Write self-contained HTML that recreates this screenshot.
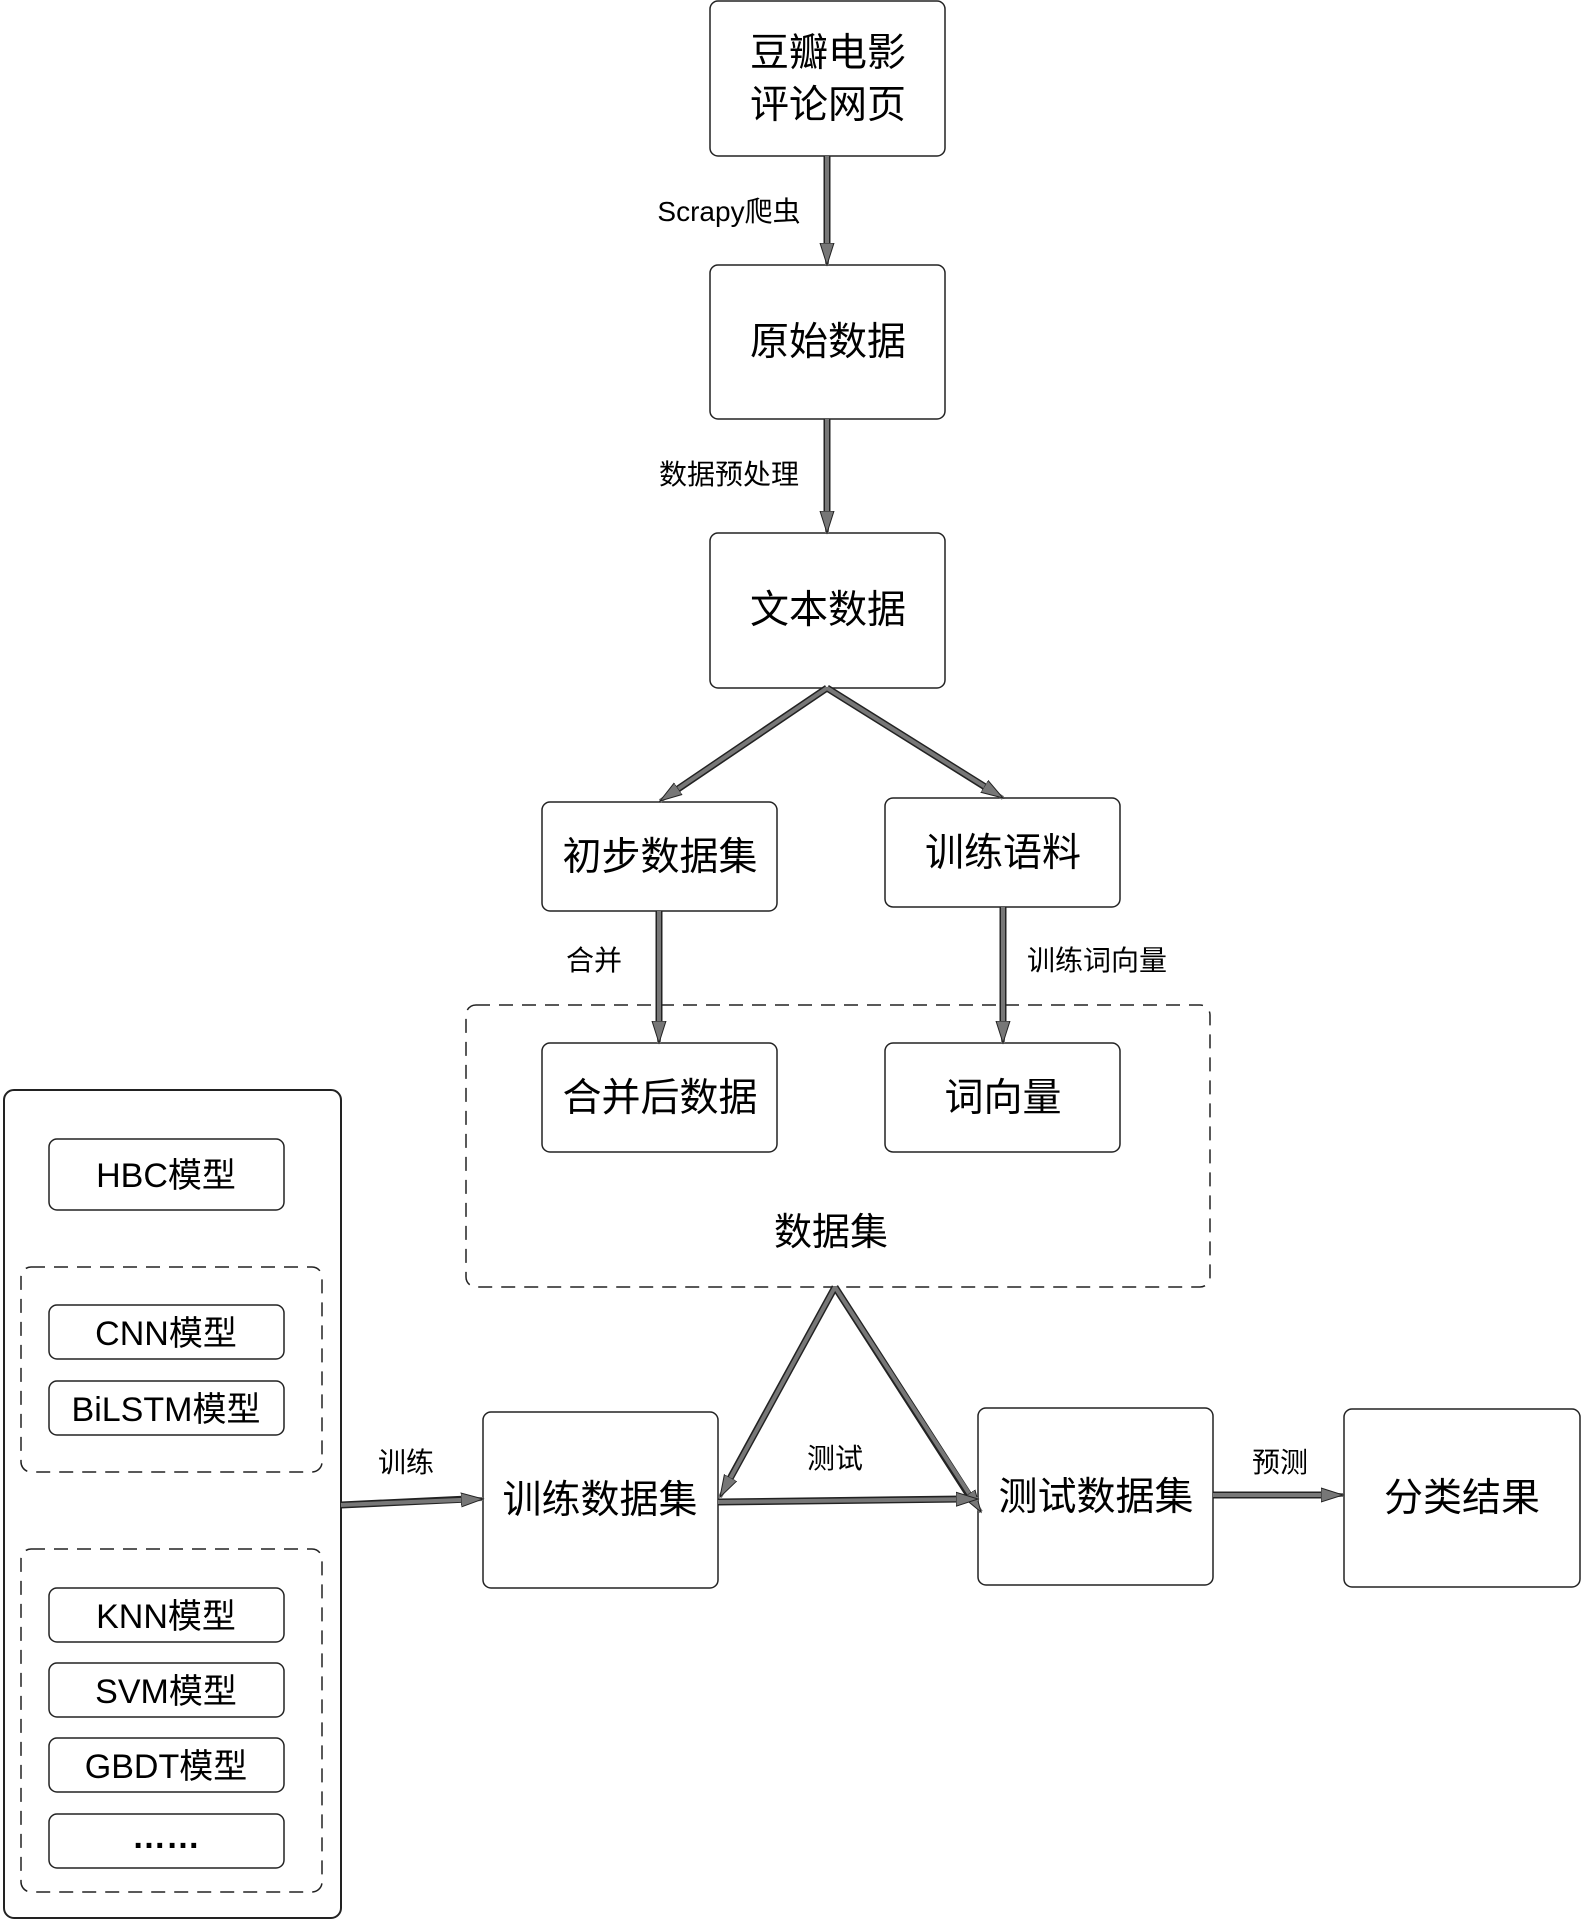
<!DOCTYPE html>
<html><head><meta charset="utf-8"><style>
html,body{margin:0;padding:0;background:#fff;}
svg text{font-family:"Liberation Sans","Noto Sans CJK SC",sans-serif;fill:#000;}
</style></head><body>
<svg width="1581" height="1923" viewBox="0 0 1581 1923" xmlns="http://www.w3.org/2000/svg">
<defs>
<marker id="ah" markerUnits="userSpaceOnUse" markerWidth="24" markerHeight="16" refX="22" refY="8" orient="auto">
<path d="M0,1 L22,8 L0,15 Z" fill="#777" stroke="#222" stroke-width="1"/>
</marker>
</defs>
<g fill="#fff" stroke="#222" stroke-width="1.5">
<rect x="710" y="1" width="235" height="155" rx="8"/>
<rect x="710" y="265" width="235" height="154" rx="8"/>
<rect x="710" y="533" width="235" height="155" rx="8"/>
<rect x="542" y="802" width="235" height="109" rx="8"/>
<rect x="885" y="798" width="235" height="109" rx="8"/>
<rect x="466" y="1005" width="744" height="282" rx="10" stroke-dasharray="14,9"/>
<rect x="542" y="1043" width="235" height="109" rx="8"/>
<rect x="885" y="1043" width="235" height="109" rx="8"/>
<rect x="4" y="1090" width="337" height="828" rx="10" stroke-width="2"/>
<rect x="49" y="1139" width="235" height="71" rx="8"/>
<rect x="21" y="1267" width="301" height="205" rx="10" stroke-dasharray="14,9"/>
<rect x="49" y="1305" width="235" height="54" rx="8"/>
<rect x="49" y="1381" width="235" height="54" rx="8"/>
<rect x="21" y="1549" width="301" height="343" rx="10" stroke-dasharray="14,9"/>
<rect x="49" y="1588" width="235" height="54" rx="8"/>
<rect x="49" y="1663" width="235" height="54" rx="8"/>
<rect x="49" y="1738" width="235" height="54" rx="8"/>
<rect x="49" y="1814" width="235" height="54" rx="8"/>
<rect x="483" y="1412" width="235" height="176" rx="8"/>
<rect x="978" y="1408" width="235" height="177" rx="8"/>
<rect x="1344" y="1409" width="236" height="178" rx="8"/>
</g>
<g stroke-linecap="butt" fill="none">
<g stroke="#222" stroke-width="7">
<line x1="827" y1="156" x2="827" y2="250"/>
<line x1="827" y1="419" x2="827" y2="518"/>
<line x1="827" y1="688" x2="672" y2="793"/>
<line x1="827" y1="688" x2="990" y2="790"/>
<line x1="659" y1="911" x2="659" y2="1028"/>
<line x1="1003" y1="907" x2="1003" y2="1028"/>
<line x1="835" y1="1287" x2="727" y2="1484"/>
<line x1="835" y1="1287" x2="972" y2="1500"/>
<line x1="718" y1="1502" x2="963" y2="1499"/>
<line x1="341" y1="1505" x2="468" y2="1499"/>
<line x1="1213" y1="1495" x2="1328" y2="1495"/>
</g>
<g stroke="#777" stroke-width="4" marker-end="url(#ah)">
<line x1="827" y1="156" x2="827" y2="265"/>
<line x1="827" y1="419" x2="827" y2="533"/>
<line x1="827" y1="688" x2="660" y2="801"/>
<line x1="827" y1="688" x2="1003" y2="798"/>
<line x1="659" y1="911" x2="659" y2="1043"/>
<line x1="1003" y1="907" x2="1003" y2="1043"/>
<line x1="835" y1="1287" x2="720" y2="1497"/>
<line x1="835" y1="1287" x2="981" y2="1512"/>
<line x1="718" y1="1502" x2="978" y2="1499"/>
<line x1="341" y1="1505" x2="483" y2="1499"/>
<line x1="1213" y1="1495" x2="1343" y2="1495"/>
</g>
</g>
<g font-size="39" text-anchor="middle">
<text x="828" y="66">豆瓣电影</text>
<text x="828" y="118">评论网页</text>
<text x="828" y="355">原始数据</text>
<text x="828" y="623">文本数据</text>
<text x="660" y="870">初步数据集</text>
<text x="1003" y="866">训练语料</text>
<text x="660" y="1111">合并后数据</text>
<text x="1003" y="1111">词向量</text>
<text x="600" y="1513">训练数据集</text>
<text x="1096" y="1510">测试数据集</text>
<text x="1462" y="1511">分类结果</text>
<text x="831" y="1245" font-size="38">数据集</text>
</g>
<g font-size="34" text-anchor="middle">
<text x="166" y="1187">HBC模型</text>
<text x="166" y="1345">CNN模型</text>
<text x="166" y="1421">BiLSTM模型</text>
<text x="166" y="1628">KNN模型</text>
<text x="166" y="1703">SVM模型</text>
<text x="166" y="1778">GBDT模型</text>
<text x="166" y="1848" font-weight="bold">……</text>
</g>
<g font-size="28" text-anchor="middle">
<text x="729" y="221">Scrapy爬虫</text>
<text x="729" y="484">数据预处理</text>
<text x="594" y="970">合并</text>
<text x="1097" y="970">训练词向量</text>
<text x="406" y="1472">训练</text>
<text x="835" y="1468">测试</text>
<text x="1280" y="1472">预测</text>
</g>
</svg>
</body></html>
